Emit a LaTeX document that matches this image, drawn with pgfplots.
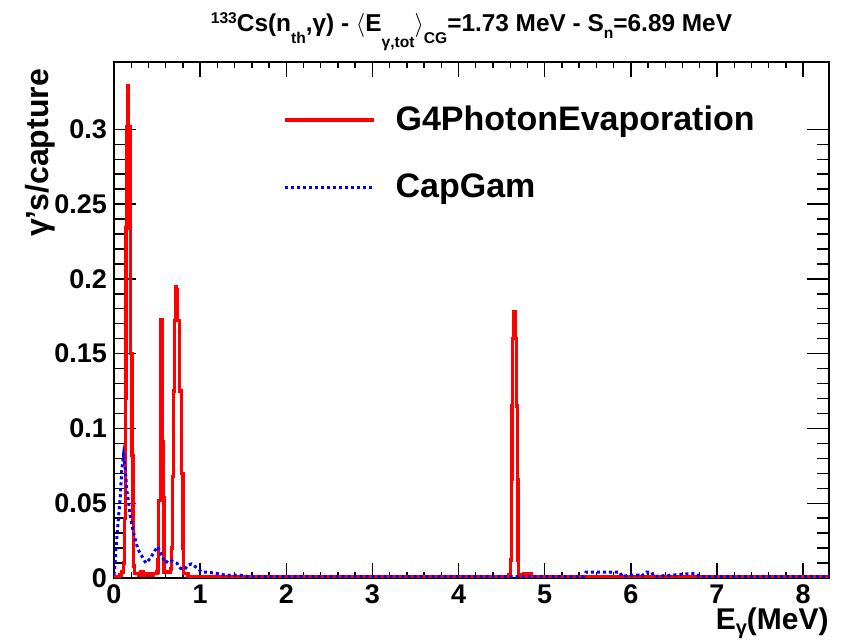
\documentclass[border=0pt]{standalone}
\usepackage{fontspec}
\setmainfont{Liberation Sans}
\usepackage{pgfplots}
\pgfplotsset{compat=1.18}
\newcommand{\sub}[3]{\raisebox{-#1}{\fontsize{#2}{#2}\selectfont #3}}
\newcommand{\sups}[3]{\raisebox{#1}{\fontsize{#2}{#2}\selectfont #3}}
\begin{document}
\begin{tikzpicture}
\path[use as bounding box] (-57pt,-30.5pt) rectangle (364pt,289pt);
\begin{axis}[
  at={(0,0)}, anchor=south west,
  scale only axis, width=357.5pt, height=258pt,
  xmin=0, xmax=8.3, ymin=0, ymax=0.345,
  axis line style={line width=1pt},
  xtick={0,1,2,3,4,5,6,7,8}, xticklabels={0,1,2,3,4,5,6,7,8},
  ytick={0,0.05,0.1,0.15,0.2,0.25,0.3}, yticklabels={0,0.05,0.1,0.15,0.2,0.25,0.3},
  minor x tick num=4, minor y tick num=4,
  tick align=inside,
  tick style={black, line width=0.7pt},
  xtick style={/pgfplots/major tick length=7.5pt,/pgfplots/minor tick length=3pt},
  ytick style={/pgfplots/major tick length=11pt,/pgfplots/minor tick length=6pt},
  tick label style={font=\bfseries\fontsize{13.5}{13.5}\selectfont},
  title={\sups{4pt}{7.8}{133}Cs(n\sub{6pt}{7.8}{th},γ) - $\langle$E\sub{8pt}{7.8}{γ,tot}$\rangle$\sub{6pt}{7.8}{CG}=1.73 MeV - S\sub{3.5pt}{7.8}{n}=6.89 MeV},
  title style={font=\bfseries\fontsize{12.2}{12.2}\selectfont, at={(axis description cs:0.5,1)}, anchor=base, yshift=9pt},
  ylabel={γ's/capture},
  ylabel style={font=\bfseries\fontsize{16}{16}\selectfont, at={(axis description cs:-0.103,1)}, anchor=east},
  xlabel={E\sub{2.5pt}{10}{γ}(MeV)},
  xlabel style={font=\bfseries\fontsize{15}{15}\selectfont, at={(axis description cs:1,0)}, anchor=base east, yshift=-25.5pt, inner sep=0pt},
  legend style={draw=none, fill=none, at={(axis description cs:0.2364,0.915)}, anchor=north west,
    font=\bfseries\fontsize{17}{17}\selectfont, row sep=20pt, inner sep=0pt, nodes={inner sep=0pt},
    /tikz/every odd column/.append style={column sep=10pt}},
  legend cell align=left,
  legend image code/.code={\draw[#1] (0pt,0pt) -- (44.5pt,0pt);},
]
\addplot[red, line width=1.6pt, const plot mark left] coordinates {
(0,0.001) (0.06,0.002) (0.09,0.004) (0.11,0.010) (0.12,0.040) (0.13,0.120) (0.14,0.234) (0.15,0.302) (0.16,0.329) (0.17,0.302) (0.19,0.150) (0.21,0.082) (0.22,0.039) (0.23,0.008) (0.24,0.003) (0.28,0.002) (0.31,0.004) (0.34,0.002) (0.38,0.003) (0.42,0.002) (0.46,0.003) (0.50,0.004) (0.51,0.012) (0.52,0.052) (0.54,0.173) (0.56,0.091) (0.57,0.054) (0.58,0.004) (0.66,0.006) (0.67,0.020) (0.68,0.068) (0.69,0.125) (0.70,0.172) (0.71,0.195) (0.73,0.193) (0.74,0.172) (0.76,0.125) (0.78,0.070) (0.80,0.020) (0.81,0.003) (0.86,0.001) (4.58,0.002) (4.60,0.012) (4.61,0.066) (4.62,0.115) (4.63,0.160) (4.64,0.178) (4.66,0.160) (4.67,0.115) (4.68,0.066) (4.69,0.012) (4.70,0.002) (4.73,0.001) (4.76,0.003) (4.79,0.001) (4.82,0.003) (4.85,0.001) (8.3,0.001)
};
\addlegendentry{G4PhotonEvaporation}
\addplot[blue, line width=1.5pt, dash pattern=on 1.5pt off 1.5pt] coordinates {
(0.00,0.002)(0.01,0.008)(0.03,0.025)(0.05,0.039)(0.07,0.052)(0.09,0.072)(0.11,0.082)(0.13,0.074)(0.15,0.058)(0.17,0.050)(0.19,0.041)(0.22,0.032)(0.25,0.025)(0.28,0.019)(0.32,0.015)(0.37,0.010)(0.42,0.013)(0.47,0.018)(0.51,0.021)(0.54,0.017)(0.57,0.013)(0.60,0.010)(0.63,0.012)(0.69,0.011)(0.73,0.010)(0.77,0.0065)(0.82,0.0058)(0.86,0.0087)(0.90,0.0094)(0.97,0.0065)(1.02,0.004)(1.10,0.0038)(1.20,0.003)(1.30,0.0018)(1.45,0.002)(1.55,0.001)(5.45,0.001)(5.48,0.004)(5.87,0.004)(5.90,0.001)(5.99,0.002)(6.09,0.002)(6.12,0.001)(6.18,0.004)(6.24,0.004)(6.27,0.001)(6.70,0.003)(6.76,0.003)(6.79,0.001)(8.3,0.001)
};
\addlegendentry{CapGam}
\end{axis}
\end{tikzpicture}
\end{document}
